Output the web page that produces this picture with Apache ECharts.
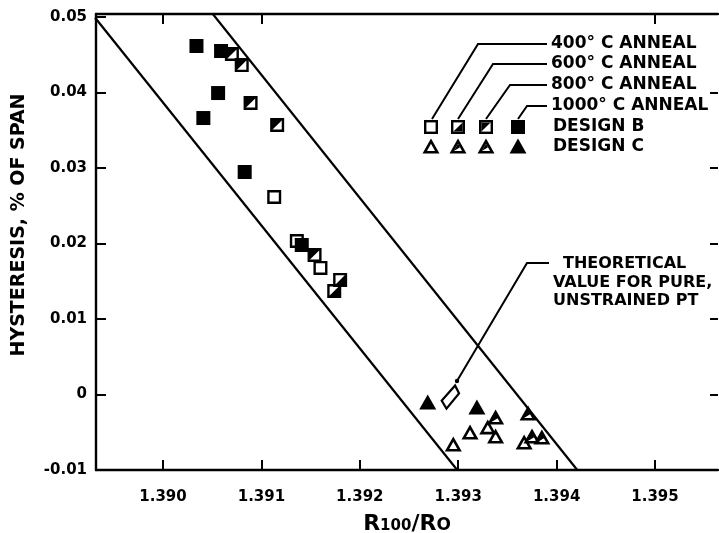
<!DOCTYPE html>
<html>
<head>
<meta charset="utf-8">
<script src="https://cdn.jsdelivr.net/npm/echarts@6/dist/echarts.min.js"></script>
<style>html,body{margin:0;padding:0;background:#fff}#c{width:719px;height:533px}</style>
</head>
<body>
<div id="c"></div>
<script>
// ---- data ----
const xTicks = [1.390, 1.391, 1.392, 1.393, 1.394, 1.395];
const xTopTicks = [1.390, 1.391, 1.395];
const yTicks = [-0.01, 0, 0.01, 0.02, 0.03, 0.04, 0.05];
const yRightTicks = [0, 0.01, 0.02, 0.03, 0.04];

// Design B (squares)
const b400 = [[1.39113, 0.02616], [1.39136, 0.02033], [1.39160, 0.01676]];
const b600 = [[1.39180, 0.01517], [1.39174, 0.01371]];
const b800 = [[1.39070, 0.04510], [1.39080, 0.04364], [1.39089, 0.03861], [1.39116, 0.03570], [1.39154, 0.01848]];
const b1000 = [[1.39034, 0.04616], [1.39059, 0.04550], [1.39056, 0.03993], [1.39041, 0.03662], [1.39083, 0.02947], [1.39141, 0.01980]];
// Design C (triangles)
const c400 = [[1.39312, -0.00497], [1.39295, -0.00656], [1.39330, -0.00430], [1.39338, -0.00550], [1.39367, -0.00629]];
const c800 = [[1.39338, -0.00298], [1.39371, -0.00245], [1.39375, -0.00550], [1.39385, -0.00563]];
const c1000 = [[1.39269, -0.00099], [1.39319, -0.00166]];
// Theoretical value for pure, unstrained Pt
const theoretical = [[1.39292, -0.00033]];
// Band boundary lines
const lowerBound = [[1.38931, 0.0499], [1.39299, -0.01]];
const upperBound = [[1.39050, 0.0505], [1.39421, -0.01]];

const legendLabels = ['400° C ANNEAL', '600° C ANNEAL', '800° C ANNEAL', '1000° C ANNEAL', 'DESIGN B', 'DESIGN C'];
const noteLines = ['THEORETICAL', 'VALUE FOR PURE,', 'UNSTRAINED PT'];
const yTitle = 'HYSTERESIS, % OF SPAN';

// ---- symbol geometry (local units) ----
function inset(poly, d) {
  const n = poly.length;
  const cx = poly.reduce((s, p) => s + p[0], 0) / n, cy = poly.reduce((s, p) => s + p[1], 0) / n;
  const lines = [];
  for (let i = 0; i < n; i++) {
    const a = poly[i], b = poly[(i + 1) % n];
    let nx = -(b[1] - a[1]), ny = b[0] - a[0];
    const L = Math.hypot(nx, ny); nx /= L; ny /= L;
    if ((cx - a[0]) * nx + (cy - a[1]) * ny < 0) { nx = -nx; ny = -ny; }
    lines.push([[a[0] + nx * d, a[1] + ny * d], [b[0] - a[0], b[1] - a[1]]]);
  }
  const out = [];
  for (let i = 0; i < n; i++) {
    const l1 = lines[(i - 1 + n) % n], l2 = lines[i];
    const p = l1[0], r = l1[1], q = l2[0], s = l2[1];
    const cr = r[0] * s[1] - r[1] * s[0];
    const t = ((q[0] - p[0]) * s[1] - (q[1] - p[1]) * s[0]) / cr;
    out.push([p[0] + t * r[0], p[1] + t * r[1]]);
  }
  return out;
}
const SQ_OUT_P = [[0,0],[14,0],[14,14],[0,14]];
const SQ_IN_P = inset(SQ_OUT_P, 2.4);
const SQ_A_P = [SQ_IN_P[0], SQ_IN_P[1], SQ_IN_P[3]];
const SQ_B_P = [SQ_IN_P[1], SQ_IN_P[2], SQ_IN_P[3]];
const TR_OUT_P = [[8.5,0],[17,15],[0,15]];
const TR_IN_P = inset(TR_OUT_P, 2.6);
const TR_H_P = [TR_IN_P[0], [(TR_IN_P[0][0] + TR_IN_P[1][0]) / 2, (TR_IN_P[0][1] + TR_IN_P[1][1]) / 2], TR_IN_P[2]];
const DI_OUT_P = [[15,0],[20,10],[6,27],[0,17]];
const DI_IN_P = inset(DI_OUT_P, 2.2);

function toPath(pts, rev) {
  const p = rev ? pts.slice().reverse() : pts;
  return 'M' + p.map(q => q[0].toFixed(2) + ',' + q[1].toFixed(2)).join(' L') + ' Z ';
}
const SQ_OPEN = toPath(SQ_OUT_P) + toPath(SQ_IN_P, true);
const SQ_HALF_A = SQ_OPEN + toPath(SQ_A_P);
const SQ_HALF_B = SQ_OPEN + toPath(SQ_B_P);
const SQ_FULL = toPath(SQ_OUT_P);
const TR_OPEN = toPath(TR_OUT_P) + toPath(TR_IN_P, true);
const TR_HALF = TR_OPEN + toPath(TR_H_P);
const TR_FULL = toPath(TR_OUT_P);
const DIAMOND = toPath(DI_OUT_P) + toPath(DI_IN_P, true);

const FONT = 'DejaVu Sans';
const chart = echarts.init(document.getElementById('c'), null, {renderer: 'canvas'});

function sc(name, data, path, size, z) {
  return {
    type: 'scatter', name: name, data: data,
    symbol: 'path://' + path, symbolSize: size,
    itemStyle: {color: '#000', opacity: 1}, z: z, silent: true
  };
}

const axisLineX = {show: true, onZero: false, lineStyle: {color: '#000', width: 2.4}};
const tickStyle = {color: '#000', width: 2};
const labelStyle = {color: '#000', fontFamily: FONT, fontWeight: 'bold', fontSize: 15};

const xMin = 1.389319, xMax = 1.39564;
const yMin = -0.01, yMax = 0.0504;

const graphics = [];
// legend leader lines
const leaders = [
  [[547, 44], [478, 44], [432, 119]],
  [[547, 64], [493, 64], [458, 119]],
  [[547, 85], [510, 85], [486, 119]],
  [[547, 106], [527, 106], [518, 119]]
];
leaders.forEach(p => graphics.push({type: 'polyline', shape: {points: p}, style: {stroke: '#000', lineWidth: 2, fill: null}, silent: true}));
// legend text
const legY = [44, 64, 85, 106, 127, 147];
legendLabels.forEach((t, i) => graphics.push({
  type: 'text', x: i < 4 ? 551 : 553, y: legY[i],
  style: {text: t, font: 'bold 17px "DejaVu Sans"', fill: '#000', align: 'left', verticalAlign: 'middle'}, silent: true
}));
// legend symbols built from polygons: outer black, inner white, optional black part
function legSym(cx, cy, w, h, outer, inner, part) {
  const ox = cx - w / 2, oy = cy - h / 2;
  const mv = pts => pts.map(p => [p[0] + ox, p[1] + oy]);
  graphics.push({type: 'polygon', shape: {points: mv(outer)}, style: {fill: '#000'}, silent: true, z: 10});
  if (inner) graphics.push({type: 'polygon', shape: {points: mv(inner)}, style: {fill: '#fff'}, silent: true, z: 11});
  if (part) graphics.push({type: 'polygon', shape: {points: mv(part)}, style: {fill: '#000'}, silent: true, z: 12});
}
legSym(431, 127, 14, 14, SQ_OUT_P, SQ_IN_P, null);
legSym(458, 127, 14, 14, SQ_OUT_P, SQ_IN_P, SQ_B_P);
legSym(486, 127, 14, 14, SQ_OUT_P, SQ_IN_P, SQ_A_P);
legSym(518, 127, 14, 14, SQ_OUT_P, null, null);
legSym(431, 146, 17, 15, TR_OUT_P, TR_IN_P, null);
legSym(458, 146, 17, 15, TR_OUT_P, TR_IN_P, TR_H_P);
legSym(486, 146, 17, 15, TR_OUT_P, TR_IN_P, TR_H_P);
legSym(518, 146, 17, 15, TR_OUT_P, null, null);
// theoretical note
graphics.push({type: 'polyline', shape: {points: [[549, 263], [527, 263], [457, 381]]}, style: {stroke: '#000', lineWidth: 2, fill: null}, silent: true});
graphics.push({type: 'circle', shape: {cx: 457, cy: 381, r: 2.2}, style: {fill: '#000'}, silent: true});
const noteX = [563, 553, 553];
const noteY = [264, 283, 301];
noteLines.forEach((t, i) => graphics.push({
  type: 'text', x: noteX[i], y: noteY[i],
  style: {text: t, font: 'bold 16px "DejaVu Sans"', fill: '#000', align: 'left', verticalAlign: 'middle'}, silent: true
}));
// y-axis title
graphics.push({
  type: 'text', x: 19, y: 225, rotation: Math.PI / 2,
  style: {text: yTitle, font: 'bold 19px "DejaVu Sans"', fill: '#000', align: 'center', verticalAlign: 'middle'}, silent: true
});

const option = {
  backgroundColor: '#fff',
  animation: false,
  grid: {left: 96, right: 1, top: 14, bottom: 63, containLabel: false, outerBoundsMode: 'none'},
  xAxis: [{
    type: 'value', position: 'bottom', min: xMin, max: xMax,
    axisLine: axisLineX,
    axisTick: {show: true, inside: true, length: 10, lineStyle: tickStyle, customValues: xTicks},
    axisLabel: Object.assign({customValues: xTicks, margin: 20, formatter: v => v.toFixed(3)}, labelStyle),
    splitLine: {show: false},
    name: '{a|R}{b|100}{a|/R}{c|O}', nameLocation: 'middle', nameGap: 43,
    nameTextStyle: {rich: {
      a: {fontFamily: FONT, fontWeight: 'bold', fontSize: 22, color: '#000'},
      b: {fontFamily: FONT, fontWeight: 'bold', fontSize: 15, color: '#000', padding: [5, 0, 0, 0]},
      c: {fontFamily: FONT, fontWeight: 'bold', fontSize: 17, color: '#000', padding: [3, 0, 0, 0]}
    }}
  }, {
    type: 'value', position: 'top', min: xMin, max: xMax,
    axisLine: axisLineX,
    axisTick: {show: true, inside: true, length: 10, lineStyle: tickStyle, customValues: xTopTicks},
    axisLabel: {show: false}, splitLine: {show: false}
  }],
  yAxis: [{
    type: 'value', position: 'left', min: yMin, max: yMax,
    axisLine: axisLineX,
    axisTick: {show: true, inside: true, length: 10, lineStyle: tickStyle, customValues: yTicks},
    axisLabel: Object.assign({customValues: yTicks, margin: 9, formatter: v => Math.abs(v) < 1e-9 ? '0' : v.toFixed(2)}, labelStyle),
    splitLine: {show: false}
  }, {
    type: 'value', position: 'right', min: yMin, max: yMax,
    axisLine: {show: false, onZero: false},
    axisTick: {show: true, inside: true, length: 8, lineStyle: tickStyle, customValues: yRightTicks},
    axisLabel: {show: false}, splitLine: {show: false}
  }],
  series: [
    {type: 'line', data: lowerBound, symbol: 'none', lineStyle: {color: '#000', width: 2.2}, silent: true, z: 1},
    {type: 'line', data: upperBound, symbol: 'none', lineStyle: {color: '#000', width: 2.2}, silent: true, z: 1},
    sc('b1000', b1000, SQ_FULL, [14, 14], 3),
    sc('b800', b800, SQ_HALF_A, [14, 14], 4),
    sc('b600', b600, SQ_HALF_B, [14, 14], 4),
    sc('b400', b400, SQ_OPEN, [14, 14], 5),
    sc('c1000', c1000, TR_FULL, [17, 15], 3),
    sc('c800', c800, TR_HALF, [17, 15], 4),
    sc('c400', c400, TR_OPEN, [17, 15], 5),
    sc('theory', theoretical, DIAMOND, [20, 27], 5)
  ],
  graphic: graphics
};
chart.setOption(option);
</script>
</body>
</html>
